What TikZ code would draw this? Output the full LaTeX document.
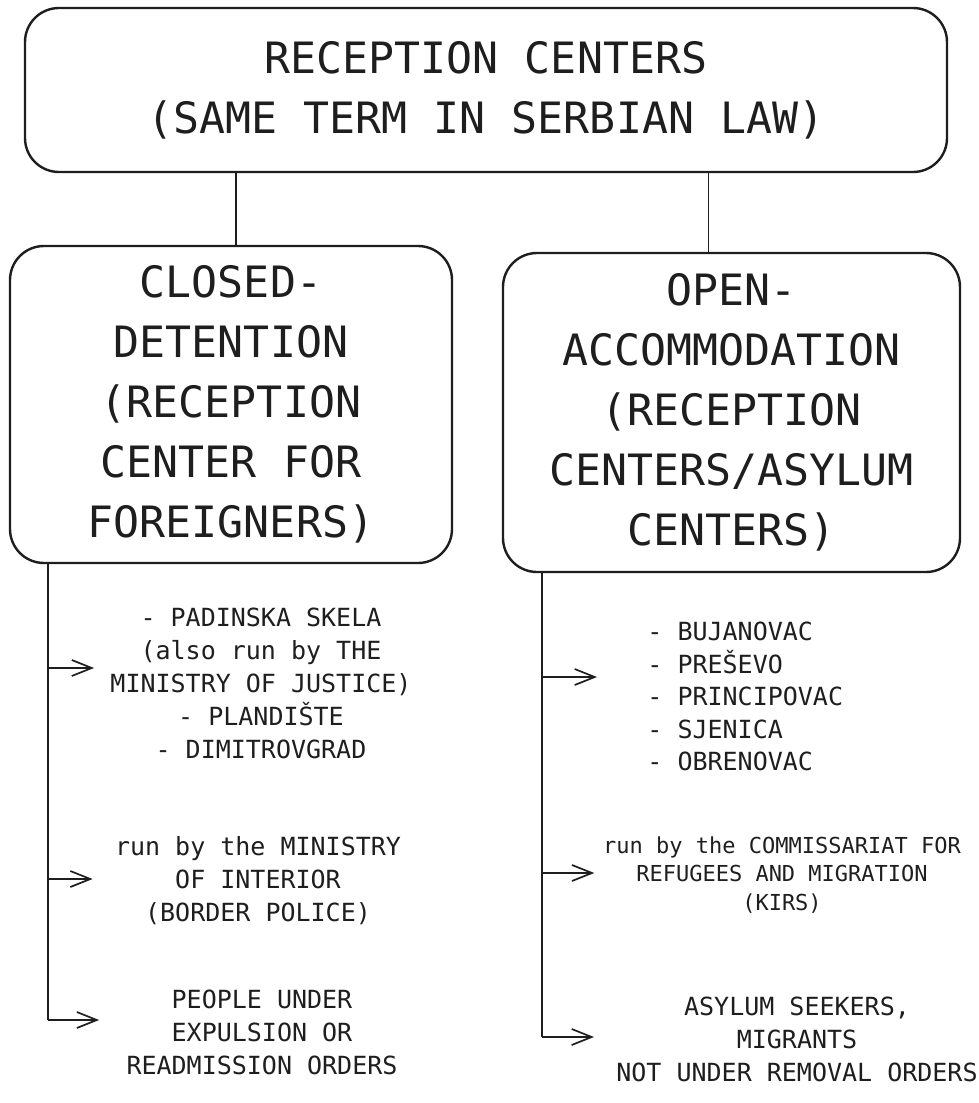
\documentclass[tikz,border=0pt]{standalone}
\usepackage{fontspec}
\newfontfamily\handfont{DejaVu Sans Mono}
\usetikzlibrary{arrows.meta,positioning,calc}
\definecolor{ink}{HTML}{1E1E1E}

\begin{document}
\begin{tikzpicture}[x=0.5pt, y=-0.5pt,
    box/.style={draw=ink, line width=1.2pt, rounded corners=17pt, align=center, text=ink, inner sep=0pt, font=\handfont\fontsize{21.6}{30}\selectfont},
    note/.style={align=center, text=ink, inner sep=0pt, anchor=north, font=\handfont\fontsize{12.5}{16.5}\selectfont},
    link/.style={draw=ink, line width=0.85pt},
    arr/.style={-{Straight Barb[length=10pt,width=8pt]}, draw=ink, line width=0.85pt}
]
\useasboundingbox (0,0) rectangle (979,1103);

\node[box, minimum width=461pt, minimum height=82pt] (title) at (486,90) {RECEPTION CENTERS\\(SAME TERM IN SERBIAN LAW)};
\node[box, minimum width=221pt, minimum height=158.5pt] (closed) at (231,404.5) {CLOSED-\\DETENTION\\(RECEPTION\\CENTER FOR\\FOREIGNERS)};
\node[box, minimum width=228.5pt, minimum height=159.5pt] (open) at (731.5,412.5) {OPEN-\\ACCOMMODATION\\(RECEPTION\\CENTERS/ASYLUM\\CENTERS)};

\draw[link] ([xshift=2.5pt]closed.north) -- ([xshift=2.5pt]closed.north |- title.south);
\draw[link] ([xshift=-11.5pt]open.north) -- ([xshift=-11.5pt]open.north |- title.south);

\node[note] (pad) at (261,608) {- PADINSKA SKELA\\(also run by THE\\MINISTRY OF JUSTICE)\\- PLANDIŠTE\\- DIMITROVGRAD};
\node[note] (moi) at (258,836) {run by the MINISTRY\\OF INTERIOR\\(BORDER POLICE)};
\node[note] (ppl) at (262,990) {PEOPLE UNDER\\EXPULSION OR\\READMISSION ORDERS};

\node[note, anchor=north west, align=left, font=\handfont\fontsize{12.5}{16.2}\selectfont] (camps) at (647,622) {- BUJANOVAC\\- PREŠEVO\\- PRINCIPOVAC\\- SJENICA\\- OBRENOVAC};
\node[note, font=\handfont\fontsize{11}{14.25}\selectfont] (kirs) at (782,836) {run by the COMMISSARIAT FOR\\REFUGEES AND MIGRATION\\(KIRS)};
\node[note] (seek) at (797,997) {ASYLUM SEEKERS,\\MIGRANTS\\NOT UNDER REMOVAL ORDERS};

\coordinate (l1) at (48,668);
\coordinate (l2) at (48,879);
\coordinate (l3) at (48,1020);
\coordinate (r1) at (542,677);
\coordinate (r2) at (542,873);
\coordinate (r3) at (542,1037);

\draw[link] (closed.south -| l3) -- (l3);
\draw[arr, shorten >=8pt] (l1) -- (l1 -| pad.west);
\draw[arr, shorten >=11pt] (l2) -- (l2 -| moi.west);
\draw[arr, shorten >=13.5pt] (l3) -- (l3 -| ppl.west);

\draw[link] (open.south -| r3) -- (r3);
\draw[arr, shorten >=25pt] (r1) -- (r1 -| camps.west);
\draw[arr, shorten >=4.25pt] (r2) -- (r2 -| kirs.west);
\draw[arr, shorten >=11pt] (r3) -- (r3 -| seek.west);
\end{tikzpicture}
\end{document}
